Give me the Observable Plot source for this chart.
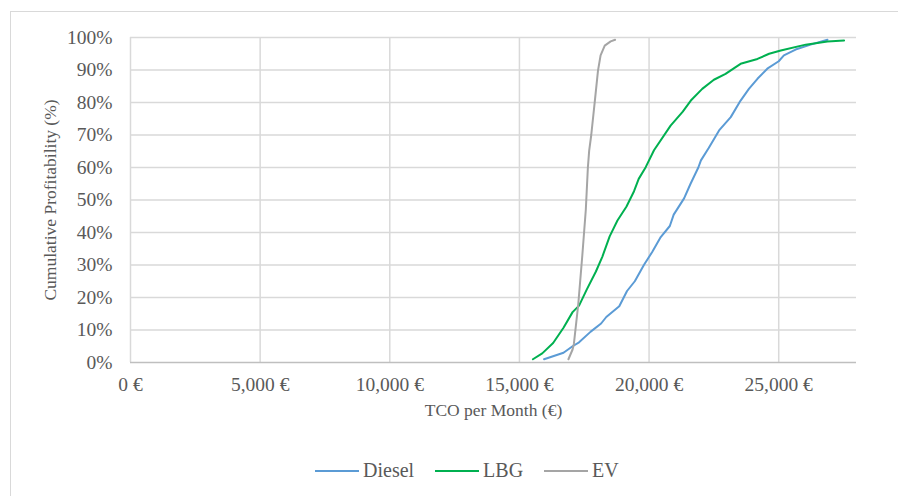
<!DOCTYPE html>
<html>
<head>
<meta charset="utf-8">
<script src="https://cdn.jsdelivr.net/npm/d3@7"></script>
<script src="https://cdn.jsdelivr.net/npm/@observablehq/plot@0.6"></script>
<style>
  html, body { margin: 0; padding: 0; background: #fff; width: 898px; height: 496px; overflow: hidden; }
  #frame { position: absolute; left: 10px; top: 11px; width: 1000px; height: 600px; border-top: 1.5px solid #d9d9d9; border-left: 1.5px solid #d9d9d9; box-sizing: border-box; }
  #chart { position: absolute; left: 0; top: 0; }
  #chart svg text { font-family: "Liberation Serif", serif; }
  #legend { position: absolute; left: 315px; top: 459px; display: flex; align-items: center; font-family: "Liberation Serif", serif; font-size: 20px; color: #595959; }
  .item { display: flex; align-items: center; }
  .sw { width: 44px; height: 2px; margin-right: 4px; }
</style>
</head>
<body>
<div id="frame"></div>
<div id="chart"></div>
<div id="legend"></div>
<script>
// Data: [TCO per month (€), cumulative %]
const diesel = [[15950,1],[16700,3],[17050,5],[17300,6.2],[17750,9.5],[18150,12],[18350,14],[18850,17.3],[19150,22],[19450,25],[19800,30],[20120,34],[20450,38.6],[20800,42],[20950,45.5],[21350,50.5],[21600,55],[21900,60],[22000,62.2],[22300,66],[22700,71.4],[23150,75.5],[23530,80.6],[23850,84.2],[24180,87.3],[24560,90.4],[25000,92.7],[25200,94.5],[25650,96.3],[26230,97.8],[26880,99.3]];
const lbg = [[15520,1],[15880,2.8],[16300,6],[16700,10.7],[17050,15.5],[17300,17.5],[17600,22.5],[17950,28],[18200,32.6],[18480,38.8],[18780,43.7],[19130,48],[19420,52.7],[19600,56.5],[19870,60.1],[20190,65.3],[20830,72.9],[21300,77.2],[21610,80.6],[22050,84.2],[22500,87],[22950,88.8],[23340,90.9],[23530,91.9],[24180,93.4],[24630,95],[25080,96],[26040,97.8],[26880,98.8],[27520,99.1]];
const ev = [[16890,1],[17050,4],[17100,5.7],[17270,18],[17426,33],[17560,47],[17640,60],[17690,65.2],[17770,70],[17910,80.6],[18030,89.8],[18130,94.5],[18290,97.5],[18520,98.8],[18690,99.3]];

const seriesNames = ["Diesel", "LBG", "EV"];
const seriesColors = ["#5B9BD5", "#00B050", "#A5A5A5"];
const xTicks = [0, 5000, 10000, 15000, 20000, 25000];
const yTicks = [0, 10, 20, 30, 40, 50, 60, 70, 80, 90, 100];
const xTitle = "TCO per Month (€)";
const yTitle = "Cumulative Profitability (%)";

const rows = [];
[diesel, lbg, ev].forEach((s, i) => s.forEach(([x, y]) => rows.push({series: seriesNames[i], x, y})));

const font = "Liberation Serif";

const chart = Plot.plot({
  width: 898,
  height: 440,
  marginLeft: 130,
  marginRight: 42,
  marginTop: 37,
  marginBottom: 78,
  style: { fontFamily: font, color: "#595959", background: "transparent", overflow: "visible" },
  x: { domain: [0, 28000] },
  y: { domain: [0, 100] },
  color: { domain: seriesNames, range: seriesColors },
  marks: [
    Plot.gridX(xTicks, { stroke: "#d9d9d9", strokeOpacity: 1, strokeWidth: 1.5 }),
    Plot.gridY(yTicks.filter(d => d > 0), { stroke: "#d9d9d9", strokeOpacity: 1, strokeWidth: 1.5 }),
    Plot.ruleY([0], { stroke: "#bfbfbf", strokeWidth: 1.5 }),
    Plot.axisX({ ticks: xTicks, tickFormat: d => d3.format(",")(d) + " €", tickSize: 0, tickPadding: 15, fontSize: 19.5, fontFamily: font, fontVariant: "normal", label: null }),
    Plot.axisY({ ticks: yTicks, tickFormat: d => d + "%", tickSize: 0, tickPadding: 18, fontSize: 19.5, fontFamily: font, fontVariant: "normal", label: null }),
    Plot.line(rows, { x: "x", y: "y", z: "series", stroke: "series", strokeWidth: 2 }),
    Plot.text([xTitle], { frameAnchor: "bottom", dy: 53, fontSize: 17.5, fontFamily: font, fill: "#595959" }),
    Plot.text([yTitle], { frameAnchor: "left", dx: -80, rotate: -90, textAnchor: "middle", fontSize: 17.5, fontFamily: font, fill: "#595959" })
  ]
});
document.getElementById("chart").appendChild(chart);

const legend = document.getElementById("legend");
seriesNames.forEach((name, i) => {
  const item = document.createElement("div");
  item.className = "item";
  if (i > 0) item.style.marginLeft = "21px";
  const sw = document.createElement("div");
  sw.className = "sw";
  sw.style.background = seriesColors[i];
  const t = document.createElement("span");
  t.textContent = name;
  item.appendChild(sw);
  item.appendChild(t);
  legend.appendChild(item);
});
</script>
</body>
</html>
